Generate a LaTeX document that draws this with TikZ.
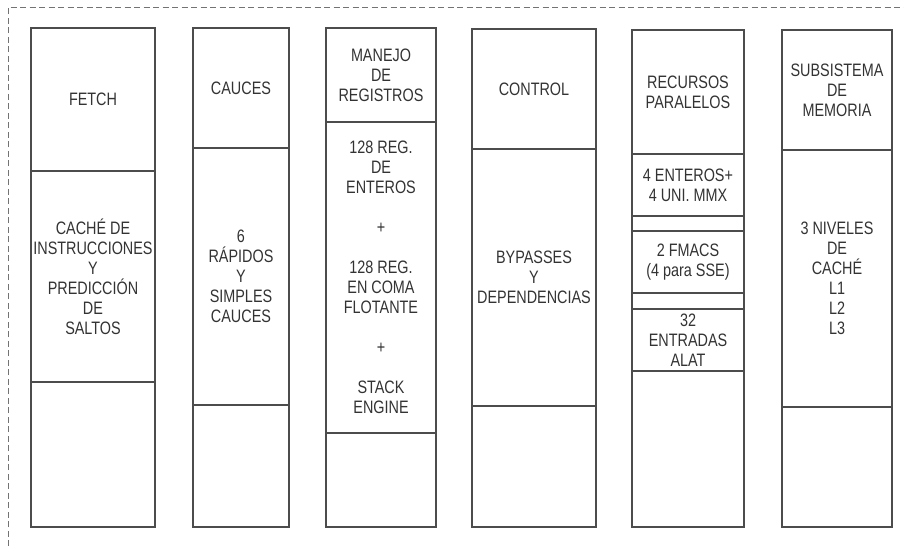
\documentclass[tikz,border=0pt]{standalone}
\usepackage{fontspec}
\setmainfont{Liberation Sans}[FakeStretch=0.8]
\usetikzlibrary{positioning}

\tikzset{
  seccion/.style={draw=black!70, line width=1.2pt, align=center, inner sep=0pt, outer sep=0pt,
    text=black!80, font=\fontsize{18}{20}\selectfont},
  marco/.style={draw=black!55, line width=0.9pt, dash pattern=on 6pt off 3.5pt}
}

\begin{document}
\begin{tikzpicture}[x=1pt, y=-1pt]
  \useasboundingbox[fill=white] (0,0) rectangle (904,546);
  \draw[marco] (8,546) -- (8,7) -- (904,7);

  % fetch
  \node[seccion, minimum width=124pt, minimum height=143pt, anchor=north west] (fetchA) at (31,28) {FETCH};
  \node[seccion, minimum width=124pt, minimum height=211pt, below=0pt of fetchA]
    (fetchB) {CACHÉ DE\\INSTRUCCIONES\\Y\\PREDICCIÓN\\DE\\SALTOS};
  \node[seccion, minimum width=124pt, minimum height=145pt, below=0pt of fetchB] (fetchC) {};

  % cauces
  \node[seccion, minimum width=96pt, minimum height=120pt, anchor=north west] (caucA) at (193,28) {CAUCES};
  \node[seccion, minimum width=96pt, minimum height=257pt, below=0pt of caucA]
    (caucB) {6\\RÁPIDOS\\Y\\SIMPLES\\CAUCES};
  \node[seccion, minimum width=96pt, minimum height=122pt, below=0pt of caucB] (caucC) {};

  % registros
  \node[seccion, minimum width=110pt, minimum height=94pt, anchor=north west] (regA) at (326,28) {MANEJO\\DE\\REGISTROS};
  \node[seccion, minimum width=110pt, minimum height=311pt, below=0pt of regA]
    (regB) {128 REG.\\DE\\ENTEROS\\[20pt]+\\[20pt]128 REG.\\EN COMA\\FLOTANTE\\[20pt]+\\[20pt]STACK\\ENGINE};
  \node[seccion, minimum width=110pt, minimum height=94pt, below=0pt of regB] (regC) {};

  % control
  \node[seccion, minimum width=124pt, minimum height=120pt, anchor=north west] (ctrlA) at (472,29) {CONTROL};
  \node[seccion, minimum width=124pt, minimum height=257pt, below=0pt of ctrlA]
    (ctrlB) {BYPASSES\\Y\\DEPENDENCIAS};
  \node[seccion, minimum width=124pt, minimum height=121pt, below=0pt of ctrlB] (ctrlC) {};

  % recursos paralelos
  \node[seccion, minimum width=112pt, minimum height=124pt, anchor=north west] (recA) at (632,30) {RECURSOS\\PARALELOS};
  \node[seccion, minimum width=112pt, minimum height=62pt, below=0pt of recA] (recB) {4 ENTEROS+\\4 UNI. MMX};
  \node[seccion, minimum width=112pt, minimum height=15pt, below=0pt of recB] (recC) {};
  \node[seccion, minimum width=112pt, minimum height=62pt, below=0pt of recC] (recD) {2 FMACS\\(4 para SSE)};
  \node[seccion, minimum width=112pt, minimum height=16pt, below=0pt of recD] (recE) {};
  \node[seccion, minimum width=112pt, minimum height=62pt, below=0pt of recE] (recF) {32\\ENTRADAS\\ALAT};
  \node[seccion, minimum width=112pt, minimum height=156pt, below=0pt of recF] (recG) {};

  % memoria
  \node[seccion, minimum width=110pt, minimum height=120pt, anchor=north west] (memA) at (782,30) {SUBSISTEMA\\DE\\MEMORIA};
  \node[seccion, minimum width=110pt, minimum height=257pt, below=0pt of memA]
    (memB) {3 NIVELES\\DE\\CACHÉ\\L1\\L2\\L3};
  \node[seccion, minimum width=110pt, minimum height=120pt, below=0pt of memB] (memC) {};
\end{tikzpicture}
\end{document}
